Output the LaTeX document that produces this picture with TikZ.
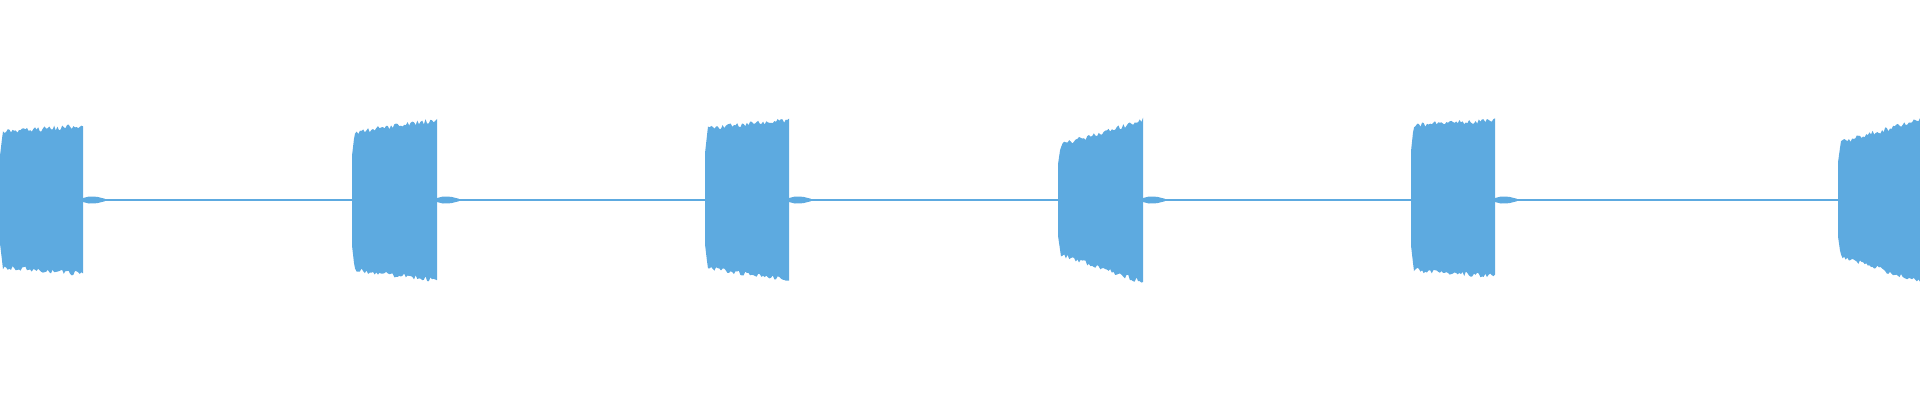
\documentclass[tikz,border=0pt]{standalone}
\definecolor{wv}{HTML}{5DAAE0}
\newcommand{\wblock}[6]{% x0 x1 topL topR botL botR (distances from centre)
 \pgfmathsetmacro{\xa}{#1}\pgfmathsetmacro{\xb}{#2}
 \fill[wv] (\xa,200) -- (\xa,{200-0.65*#3}) -- ({\xa+2},{200-0.9*#3})
  \foreach \i in {0,0.02,...,1.001}{ -- ({\xa+3+\i*(\xb-\xa-3)},{200-(#3+(#4-#3)*\i)-2.5*rand}) }
  -- (\xb,{200-0.96*#4}) -- (\xb,{200+0.96*#6})
  \foreach \i in {1,0.98,...,-0.001}{ -- ({\xa+3+\i*(\xb-\xa-3)},{200+(#5+(#6-#5)*\i)+2.5*rand}) }
  -- ({\xa+2},{200+0.9*#5}) -- (\xa,{200+0.65*#5}) -- cycle;
 \fill[wv] (\xb,198) -- (\xb+6,196.5) -- (\xb+14,196.8) -- (\xb+22,198.8) -- (\xb+22,201.2) -- (\xb+14,203.2) -- (\xb+6,203.5) -- (\xb,202) -- cycle;
}
\begin{document}
\begin{tikzpicture}[x=1pt,y=-1pt]
\pgfmathsetseed{7}
\useasboundingbox (0,0) rectangle (1920,400);
\fill[wv] (0,199.4) rectangle (1920,200.6);
\wblock{0}{83}{68}{74}{67}{74}
\wblock{352}{437}{68}{80}{70}{80}
\wblock{705}{789}{72}{80}{68}{80}
\wblock{1058}{1143}{55}{80}{55}{82}
\wblock{1411}{1495}{75}{80}{70}{76}
\wblock{1838}{1920}{58}{80}{56}{82}
\end{tikzpicture}
\end{document}
